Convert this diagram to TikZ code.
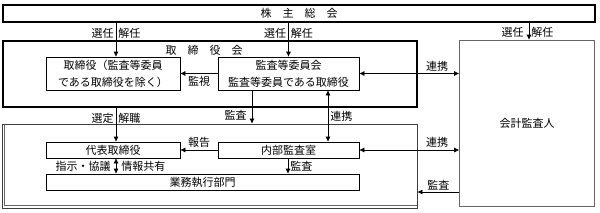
\documentclass[tikz,border=0pt]{standalone}
\usepackage{fontspec}
\newfontfamily\jfont{Noto Sans CJK JP}
\usetikzlibrary{arrows.meta}

\begin{document}
\begin{tikzpicture}[x=1pt,y=-1pt,
  lbl/.style={font=\jfont\fontsize{11}{17}\selectfont,inner sep=2pt},
  bx/.style={draw,line width=.6pt,inner sep=0pt,align=center,lbl},
  thickbx/.style={bx,line width=1.3pt},
  arr/.style={line width=.6pt,-{Latex[length=5pt,width=5pt]}},
  darr/.style={line width=.6pt,{Latex[length=5pt,width=5pt]}-{Latex[length=5pt,width=5pt]}}]
\useasboundingbox (0,0) rectangle (600,212);
\node[thickbx,minimum width=592,minimum height=17] (soukai) at (299,13.5) {株　主　総　会};
\node[thickbx,minimum width=414,minimum height=66] (board) at (210,74) {};
\node[lbl] (boardlbl) at (204,50) {取　締　役　会};
\node[bx,minimum width=134,minimum height=33] (dir) at (113,73.5) {取締役（監査等委員\\である取締役を除く）};
\node[bx,minimum width=141,minimum height=33] (audit) at (288.5,73.5) {監査等委員会\\監査等委員である取締役};
\node[bx,draw=black!60,minimum width=135,minimum height=166] (acct) at (527,123) {会計監査人};
\node[bx,draw=black!75,line width=.9pt,minimum width=415,minimum height=84] (exec) at (209.5,166) {};
\draw[black!60,line width=.6pt] ([xshift=3pt,yshift=-1pt]exec.north west) -- ([xshift=3pt,yshift=3pt]exec.south west) -- ([yshift=3pt]exec.south east);
\node[bx,minimum width=134,minimum height=16] (rep) at (113,150) {代表取締役};
\node[bx,minimum width=141,minimum height=16] (internal) at (288.5,150) {内部監査室};
\node[bx,minimum width=313,minimum height=16] (biz) at (202.5,182) {業務執行部門};

\draw[arr] (soukai.south -| 116,0) -- (dir.north -| 116,0)
  node[lbl,pos=.3,left] {選任} node[lbl,pos=.3,right] {解任};
\draw[arr] (soukai.south -| audit.north) -- (audit.north)
  node[lbl,pos=.3,left] {選任} node[lbl,pos=.3,right] {解任};
\draw[arr] (soukai.south -| 529,0) -- (acct.north -| 529,0)
  node[lbl,pos=.55,left=3pt] {選任} node[lbl,pos=.55,right] {解任};
\draw[arr] (audit.west) -- (dir.east) node[lbl,midway,below] {監視};
\draw[darr] (audit.east) -- (acct.west |- audit.east) node[lbl,pos=.78,above] {連携};
\draw[arr] (board.south -| 116,0) -- (rep.north -| 116,0)
  node[lbl,pos=.3,left] {選定} node[lbl,pos=.3,right] {解職};
\draw[arr] (audit.south -| 252,0) -- (exec.north -| 252,0) node[lbl,pos=.75,left=3pt] {監査};
\draw[darr] (internal.north -| 328,0) -- (audit.south -| 328,0) node[lbl,pos=.5,right] {連携};
\draw[arr] (internal.west) -- (rep.east) node[lbl,midway,above] {報告};
\draw[darr] (rep.south -| 116,0) -- (biz.north -| 116,0)
  node[lbl,midway,left=3pt] {指示・協議} node[lbl,midway,right=3pt] {情報共有};
\draw[arr] (internal.south -| 288,0) -- (biz.north -| 288,0) node[lbl,midway,right] {監査};
\draw[darr] (internal.east) -- (acct.west |- internal.east) node[lbl,pos=.78,above] {連携};
\draw[arr] (acct.west |- 0,192) -- (exec.east |- 0,192) node[lbl,midway,above] {監査};
\end{tikzpicture}
\end{document}
